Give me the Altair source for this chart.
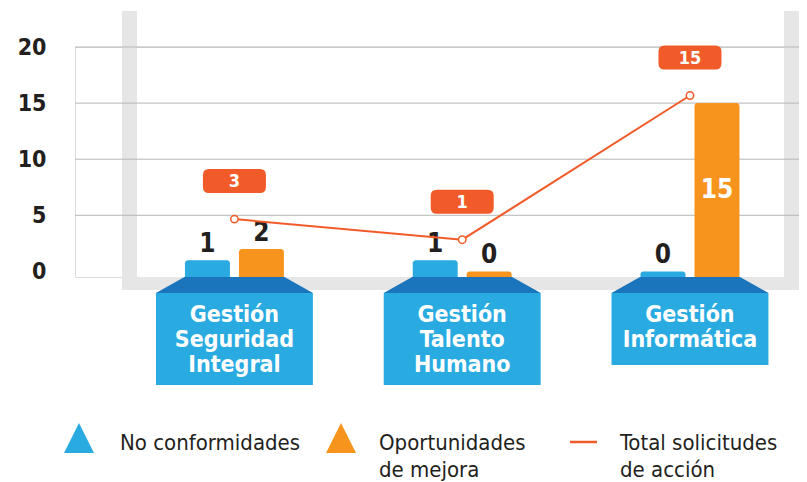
import altair as alt
import pandas as pd

# ---- data ----
categories = ["Gestión\nSeguridad\nIntegral", "Gestión\nTalento\nHumano", "Gestión\nInformática"]
series = ["No conformidades", "Oportunidades de mejora"]
no_conformidades = [1, 1, 0]
oportunidades = [2, 0, 15]
total_solicitudes = [3, 1, 15]
y_ticks = [0, 5, 10, 15, 20]
legend_labels = ["No conformidades", "Oportunidades\nde mejora", "Total solicitudes\nde acción"]

# ---- styles ----
BLUE = "#29abe2"
ORANGE = "#f7941d"
RED = "#f15a29"
ROOF = "#1b75bc"
GREY = "#e6e6e6"
GRID = "#b5b5b5"
DARK = "#231f20"
FONT = "'DejaVu Sans Condensed', 'DejaVu Sans', sans-serif"
W, H = 724, 230
BASE = -0.5

bars_df = pd.DataFrame({
    "cat": categories * 2,
    "serie": [series[0]] * 3 + [series[1]] * 3,
    "value": no_conformidades + oportunidades,
})
line_df = pd.DataFrame({"cat": categories, "total": total_solicitudes})
cat_df = pd.DataFrame({"cat": categories, "lines": [c.count("\n") + 1 for c in categories]})
grid_df = pd.DataFrame({"v": y_ticks[1:]})
one = pd.DataFrame({"k": [0]})

xscale = alt.Scale(domain=categories, paddingInner=0.311, paddingOuter=0.2448, align=0.726)
yscale = alt.Scale(domain=[BASE, 20], nice=False, zero=False)
yline = alt.Scale(domain=[-2.62, 19.71], nice=False, zero=False)
y_axis = alt.Axis(values=y_ticks, grid=False, domain=False, ticks=False, labelPadding=29,
                  title=None, labelFont=FONT, labelFontSize=23, labelFontWeight="bold",
                  labelColor=DARK)
X = alt.X("cat:N", scale=xscale, axis=None)
XO = alt.XOffset("serie:N", scale=alt.Scale(domain=series, paddingInner=0.167, paddingOuter=0.537))

# frame
frame_left = alt.Chart(one).mark_rect(color=GREY).encode(
    x=alt.value(47), x2=alt.value(62), y=alt.value(-36), y2=alt.value(243))
frame_bottom = alt.Chart(one).mark_rect(color=GREY).encode(
    x=alt.value(47), x2=alt.value(W), y=alt.value(230), y2=alt.value(243))
frame_right = alt.Chart(one).mark_rect(color=GREY).encode(
    x=alt.value(W - 15), x2=alt.value(W), y=alt.value(-36), y2=alt.value(230))

grid = alt.Chart(grid_df).mark_rule(color=GRID, strokeWidth=1).encode(
    y=alt.Y("v:Q", scale=yscale, axis=y_axis), x=alt.value(0), x2=alt.value(W))

bars = alt.Chart(bars_df).mark_bar(cornerRadiusTopLeft=3, cornerRadiusTopRight=3).encode(
    x=X, xOffset=XO,
    y=alt.Y("value:Q", scale=yscale, axis=y_axis), y2=alt.datum(BASE),
    color=alt.Color("serie:N", scale=alt.Scale(domain=series, range=[BLUE, ORANGE]), legend=None),
)

labels_out = alt.Chart(bars_df).transform_filter("datum.value < 10").mark_text(
    font=FONT, fontSize=26, fontWeight="bold", color=DARK, baseline="alphabetic", dy=-8).encode(
    x=X, xOffset=XO, y=alt.Y("value:Q", scale=yscale, axis=y_axis), text="value:Q")

labels_in = alt.Chart(bars_df).transform_filter("datum.value >= 10").transform_calculate(
    mid=f"(datum.value + ({BASE})) / 2").mark_text(
    font=FONT, fontSize=26, fontWeight="bold", color="white", baseline="middle").encode(
    x=X, xOffset=XO, y=alt.Y("mid:Q", scale=yscale, axis=y_axis), text="value:Q")

roof_path = "M-0.637,-0.102 L0.637,-0.102 L1,0.102 L-1,0.102 Z"
roof = alt.Chart(cat_df).mark_point(shape=roof_path, size=157 * 157, filled=True, opacity=1,
                                    color=ROOF, strokeWidth=0).encode(x=X, y=alt.value(238))
box3 = alt.Chart(cat_df).transform_filter("datum.lines == 3").mark_rect(color=BLUE).encode(
    x=X, y=alt.value(246), y2=alt.value(338))
box2 = alt.Chart(cat_df).transform_filter("datum.lines == 2").mark_rect(color=BLUE).encode(
    x=X, y=alt.value(246), y2=alt.value(318))
cat_text = alt.Chart(cat_df).mark_text(font=FONT, fontSize=23, fontWeight="bold", color="white",
                                       baseline="top", lineBreak="\n", lineHeight=25).encode(
    x=X, y=alt.value(257), text="cat:N")

# legend
tri = "M0,-1 L1,1 L-1,1 Z"
leg1 = alt.Chart(one).mark_point(shape=tri, size=900, filled=True, opacity=1, color=BLUE,
                                 strokeWidth=0).encode(x=alt.value(4), y=alt.value(391))
leg2 = alt.Chart(one).mark_point(shape=tri, size=900, filled=True, opacity=1, color=ORANGE,
                                 strokeWidth=0).encode(x=alt.value(266), y=alt.value(391))
leg3 = alt.Chart(one).mark_rule(color=RED, strokeWidth=2.5).encode(
    x=alt.value(495), x2=alt.value(522), y=alt.value(395))
leg_texts = []
for lbl, xx in zip(legend_labels, [45, 304, 545]):
    leg_texts.append(alt.Chart(one).mark_text(
        text=lbl, font=FONT, fontSize=22, color=DARK, align="left", baseline="alphabetic",
        lineBreak="\n", lineHeight=27).encode(x=alt.value(xx), y=alt.value(403)))

main = alt.layer(frame_left, frame_bottom, frame_right, grid, bars, labels_out, labels_in,
                 roof, box3, box2, cat_text, leg1, leg2, leg3, *leg_texts)

# total line (own scale)
rrect = ("M-0.81,-0.381 L0.81,-0.381 Q1,-0.381 1,-0.19 L1,0.19 Q1,0.381 0.81,0.381 "
         "L-0.81,0.381 Q-1,0.381 -1,0.19 L-1,-0.19 Q-1,-0.381 -0.81,-0.381 Z")
YL = alt.Y("total:Q", scale=yline, axis=None)
line = alt.Chart(line_df).mark_line(color=RED, strokeWidth=2).encode(x=X, y=YL)
pts = alt.Chart(line_df).mark_point(filled=True, fill="white", stroke=RED, strokeWidth=1.5,
                                    size=55, opacity=1).encode(x=X, y=YL)
tag = alt.Chart(line_df).mark_point(shape=rrect, size=63 * 63, filled=True, opacity=1, color=RED,
                                    strokeWidth=0, yOffset=-38).encode(x=X, y=YL)
tag_text = alt.Chart(line_df).mark_text(font=FONT, fontSize=18, fontWeight="bold", color="white",
                                        baseline="middle", yOffset=-37).encode(
    x=X, y=YL, text="total:Q")
line_layer = alt.layer(line, pts, tag, tag_text)

chart = alt.layer(main, line_layer).resolve_scale(y="independent").properties(
    width=W, height=H,
    padding={"left": 67, "top": 39, "right": 0, "bottom": 205},
    autosize=alt.AutoSizeParams(type="none"),
).configure_view(stroke=None).configure(background="white")

chart.save("out.html", embed_options={"renderer": "svg", "actions": False})
